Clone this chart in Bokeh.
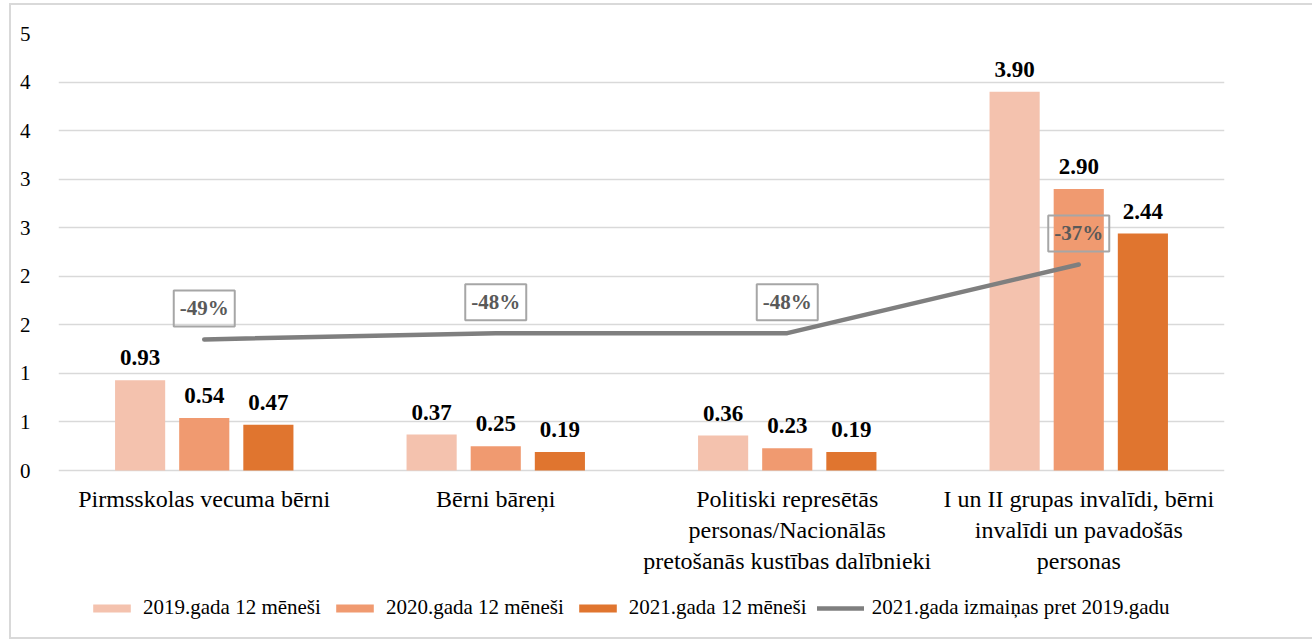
from bokeh.plotting import figure
from bokeh.models import (ColumnDataSource, FactorRange, Range1d, FixedTicker,
                          Legend, LegendItem)
from bokeh.transform import dodge
from bokeh.core.properties import value
from bokeh.embed import file_html
from bokeh.resources import INLINE

categories = [
    "Pirmsskolas vecuma bērni",
    "Bērni bāreņi",
    "Politiski represētās\npersonas/Nacionālās\npretošanās kustības dalībnieki",
    "I un II grupas invalīdi, bērni\ninvalīdi un pavadošās\npersonas",
]
v2019 = [0.93, 0.37, 0.36, 3.90]
v2020 = [0.54, 0.25, 0.23, 2.90]
v2021 = [0.47, 0.19, 0.19, 2.44]
change = [-0.49, -0.48, -0.48, -0.37]
change_labels = ["-49%", "-48%", "-48%", "-37%"]
series_names = ["2019.gada 12 mēneši", "2020.gada 12 mēneši", "2021.gada 12 mēneši",
                "2021.gada izmaiņas pret 2019.gadu"]
y_ticks = [0, 0.5, 1, 1.5, 2, 2.5, 3, 3.5, 4, 4.5]
y_tick_labels = ["0", "1", "1", "2", "2", "3", "3", "4", "4", "5"]

FONT = "'Liberation Serif', 'Times New Roman', serif"
colors = ["#F4C2AE", "#F09A70", "#E0752F"]

# layout: value axis 0..4.5 occupies 437 px; frame extended below for labels/legend
PX_PER_UNIT = 437 / 4.5
EXTRA_PX = 160
y_bottom = -EXTRA_PX / PX_PER_UNIT
pct_min = -0.7
pct_bottom = pct_min - EXTRA_PX * (0.7 / 437)

src = ColumnDataSource(dict(
    cat=categories, v2019=v2019, v2020=v2020, v2021=v2021,
    l2019=[f"{v:.2f}" for v in v2019], l2020=[f"{v:.2f}" for v in v2020],
    l2021=[f"{v:.2f}" for v in v2021],
    change=change, clab=change_labels, zero=[0] * len(categories),
))

p = figure(x_range=FactorRange(*categories), y_range=Range1d(y_bottom, 4.5),
           frame_width=1166, frame_height=437 + EXTRA_PX, output_backend="svg",
           toolbar_location=None,
           min_border_left=58, min_border_right=88, min_border_top=33,
           min_border_bottom=9)
p.extra_y_ranges = {"pct": Range1d(pct_bottom, 0)}
p.outline_line_color = None
p.background_fill_color = "white"
p.border_fill_color = None
g = "linear-gradient(#D9D9D9,#D9D9D9)"
p.styles = {
    "background-color": "white",
    "background-image": f"{g}, {g}, {g}",
    "background-position": "9px 3px, 9px 3px, 9px 637px",
    "background-size": "2px 636px, 1303px 2px, 1303px 2px",
    "background-repeat": "no-repeat",
}

offsets = [-0.22, 0.0, 0.22]
bar_w = 0.172
renderers = []
for key, off, col in zip(["2019", "2020", "2021"], offsets, colors):
    r = p.vbar(x=dodge("cat", off, range=p.x_range), top="v" + key, width=bar_w,
               source=src, fill_color=col, line_color=None)
    renderers.append(r)
    p.text(x=dodge("cat", off, range=p.x_range), y="v" + key, text="l" + key,
           source=src, text_align="center", text_baseline="bottom", y_offset=-15,
           text_font=value(FONT), text_font_style="bold", text_font_size="23px",
           text_color="black")

ln = p.line(x="cat", y="change", source=src, y_range_name="pct",
            line_color="#7F7F7F", line_width=4.5, line_cap="round")
p.text(x="cat", y="change", text="clab", source=src, y_range_name="pct",
       text_align="center", text_baseline="middle", y_offset=-31,
       text_font=value(FONT), text_font_style="bold", text_font_size="21px",
       text_color="#595959", border_line_color="#A6A6A6", border_line_width=2,
       padding=6)

# category labels below the zero line
p.text(x="cat", y="zero", text="cat", source=src, text_align="center",
       text_baseline="top", y_offset=15, text_font=value(FONT),
       text_font_size="24px", text_color="black", text_line_height=1.2)

p.xgrid.visible = False
p.ygrid.ticker = FixedTicker(ticks=y_ticks)
p.ygrid.grid_line_color = "#D9D9D9"
p.ygrid.grid_line_width = 1.5
p.xaxis.visible = False

p.yaxis.ticker = FixedTicker(ticks=y_ticks)
p.yaxis.major_label_overrides = {t: l for t, l in zip(y_ticks, y_tick_labels)}
p.yaxis.axis_line_color = None
p.yaxis.major_tick_line_color = None
p.yaxis.minor_tick_line_color = None
p.yaxis.major_label_standoff = 22
p.yaxis.major_label_text_font = FONT
p.yaxis.major_label_text_font_size = "21px"
p.yaxis.major_label_text_color = "black"

legend = Legend(items=[LegendItem(label=n, renderers=[r])
                       for n, r in zip(series_names, renderers + [ln])],
                orientation="horizontal", location=(30, 10),
                label_text_font=FONT, label_text_font_size="21px",
                label_text_color="black", glyph_width=47, glyph_height=10,
                label_standoff=8, spacing=10, padding=0, margin=0,
                border_line_color=None, background_fill_alpha=0)
p.add_layout(legend, "center")

open("out.html", "w").write(file_html(p, INLINE))
